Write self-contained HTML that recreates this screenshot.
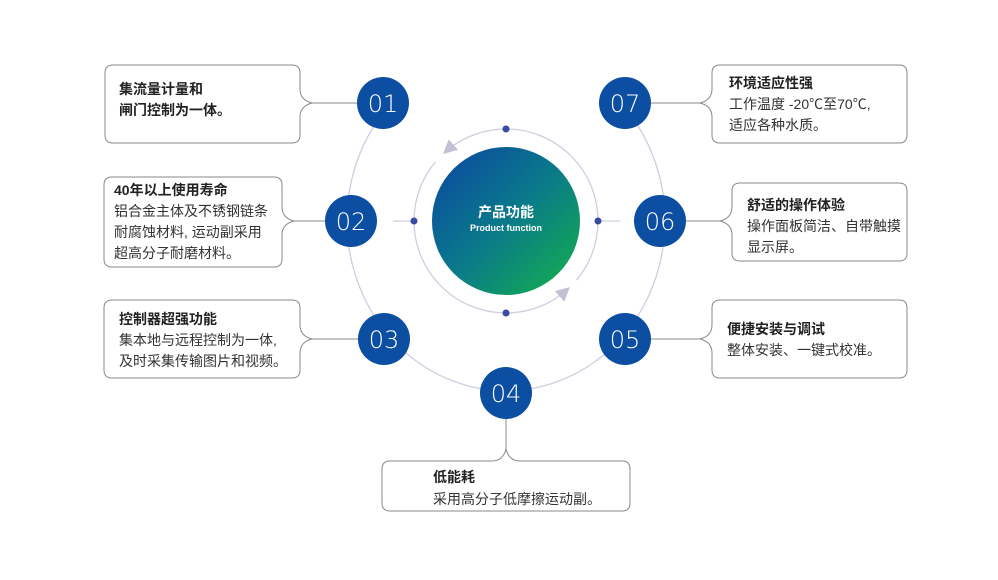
<!DOCTYPE html>
<html><head><meta charset="utf-8"><style>
html,body{margin:0;padding:0;background:#fff;}
svg{display:block;}
text{font-family:"Liberation Sans","Noto Sans CJK SC",sans-serif;}
.t{font-size:14px;font-weight:bold;fill:#222;}
.b{font-size:14px;fill:#333;}
.n{font-size:24px;fill:#fff;text-anchor:middle;font-family:"DejaVu Sans","Liberation Sans",sans-serif;font-weight:300;}
.bx{fill:#fff;stroke:#8a8a8a;stroke-width:1;}
.ln{stroke:#8a8a8a;stroke-width:1;fill:none;}
</style></head><body>
<svg width="998" height="580" viewBox="0 0 998 580" xmlns="http://www.w3.org/2000/svg">
<defs>
<linearGradient id="g" x1="0" y1="0" x2="1" y2="1">
<stop offset="0" stop-color="#0b44a2"/><stop offset="0.5" stop-color="#0a7a8a"/><stop offset="1" stop-color="#14b348"/>
</linearGradient>
</defs>
<!-- outer arc -->
<path d="M383,113 A159 170 0 1 0 629,113" fill="none" stroke="#cfcde0" stroke-width="1.3"/>
<!-- inner ring -->
<circle cx="506" cy="221" r="92" fill="none" stroke="#cfcde0" stroke-width="1.3"/>
<!-- gaps -->
<path d="M435.5,161.9 A92 92 0 0 1 444.4,152.6" fill="none" stroke="#fff" stroke-width="5"/>
<path d="M576.5,280.1 A92 92 0 0 1 567.6,289.4" fill="none" stroke="#fff" stroke-width="5"/>
<polygon points="0,0 14,-7 14,7" fill="#c3c0d6" transform="translate(443,154) rotate(-42)"/>
<polygon points="0,0 14,-7 14,7" fill="#c3c0d6" transform="translate(570,287) rotate(138)"/>
<!-- side lines -->
<line x1="393" y1="221" x2="414" y2="221" stroke="#cfcde0" stroke-width="1.3"/>
<line x1="598" y1="221" x2="620" y2="221" stroke="#cfcde0" stroke-width="1.3"/>
<circle cx="506" cy="129" r="3.5" fill="#3b4aa3"/>
<circle cx="414" cy="221" r="3.5" fill="#3b4aa3"/>
<circle cx="598" cy="221" r="3.5" fill="#3b4aa3"/>
<circle cx="506" cy="313" r="3.5" fill="#3b4aa3"/>
<!-- center -->
<circle cx="506" cy="221" r="74" fill="url(#g)"/>
<text x="506" y="217" text-anchor="middle" style="font-size:14px;font-weight:bold;fill:#fff">产品功能</text>
<text x="506" y="231" text-anchor="middle" style="font-size:9px;font-weight:bold;fill:#fff">Product function</text>

<!-- connector lines -->
<line class="ln" x1="312" y1="103" x2="360" y2="103"/>
<line class="ln" x1="294" y1="221" x2="328" y2="221"/>
<line class="ln" x1="312" y1="339" x2="360" y2="339"/>
<line class="ln" x1="700" y1="103" x2="650" y2="103"/>
<line class="ln" x1="720" y1="221" x2="686" y2="221"/>
<line class="ln" x1="700" y1="339" x2="650" y2="339"/>
<line class="ln" x1="506" y1="449" x2="506" y2="415"/>

<!-- boxes -->
<path class="bx" d="M113,65 H292 Q300,65 300,73 V89 Q300,100 312,103 Q300,106 300,117 V135 Q300,143 292,143 H113 Q105,143 105,135 V73 Q105,65 113,65 Z"/>
<path class="bx" d="M112,177 H274 Q282,177 282,185 V207 Q282,218 294,221 Q282,224 282,235 V259 Q282,267 274,267 H112 Q104,267 104,259 V185 Q104,177 112,177 Z"/>
<path class="bx" d="M112,300 H292 Q300,300 300,308 V325 Q300,336 312,339 Q300,342 300,353 V370 Q300,378 292,378 H112 Q104,378 104,370 V308 Q104,300 112,300 Z"/>
<path class="bx" d="M720,65 H899 Q907,65 907,73 V135 Q907,143 899,143 H720 Q712,143 712,135 V117 Q712,106 700,103 Q712,100 712,89 V73 Q712,65 720,65 Z"/>
<path class="bx" d="M740,183 H899 Q907,183 907,191 V253 Q907,261 899,261 H740 Q732,261 732,253 V235 Q732,224 720,221 Q732,218 732,207 V191 Q732,183 740,183 Z"/>
<path class="bx" d="M720,300 H899 Q907,300 907,308 V370 Q907,378 899,378 H720 Q712,378 712,370 V353 Q712,342 700,339 Q712,336 712,325 V308 Q712,300 720,300 Z"/>
<path class="bx" d="M390,461 H492 Q503,461 506,449 Q509,461 520,461 H622 Q630,461 630,469 V503 Q630,511 622,511 H390 Q382,511 382,503 V469 Q382,461 390,461 Z"/>

<!-- number circles -->
<g fill="#0b4ea2">
<circle cx="383" cy="103" r="26"/><circle cx="351" cy="221" r="26"/><circle cx="384" cy="339" r="26"/>
<circle cx="506" cy="393" r="26"/><circle cx="625" cy="339" r="26"/><circle cx="660" cy="221" r="26"/><circle cx="625" cy="103" r="26"/>
</g>
<text class="n" x="383" y="112">01</text>
<text class="n" x="351" y="230">02</text>
<text class="n" x="384" y="348">03</text>
<text class="n" x="506" y="402">04</text>
<text class="n" x="625" y="348">05</text>
<text class="n" x="660" y="230">06</text>
<text class="n" x="625" y="112">07</text>

<!-- texts -->
<text class="t" x="119" y="94">集流量计量和</text>
<text class="t" x="119" y="115">闸门控制为一体。</text>

<text class="t" x="114" y="195">40年以上使用寿命</text>
<text class="b" x="114" y="216">铝合金主体及不锈钢链条</text>
<text class="b" x="114" y="237">耐腐蚀材料, 运动副采用</text>
<text class="b" x="114" y="258">超高分子耐磨材料。</text>

<text class="t" x="119" y="324">控制器超强功能</text>
<text class="b" x="119" y="345">集本地与远程控制为一体,</text>
<text class="b" x="119" y="366">及时采集传输图片和视频。</text>

<text class="t" x="729" y="88">环境适应性强</text>
<text class="b" x="729" y="109">工作温度 -20℃至70℃,</text>
<text class="b" x="729" y="130">适应各种水质。</text>

<text class="t" x="747" y="210">舒适的操作体验</text>
<text class="b" x="747" y="231">操作面板简洁、自带触摸</text>
<text class="b" x="747" y="252">显示屏。</text>

<text class="t" x="727" y="334">便捷安装与调试</text>
<text class="b" x="727" y="355">整体安装、一键式校准。</text>

<text class="t" x="433" y="482">低能耗</text>
<text class="b" x="433" y="504">采用高分子低摩擦运动副。</text>
</svg>
</body></html>
